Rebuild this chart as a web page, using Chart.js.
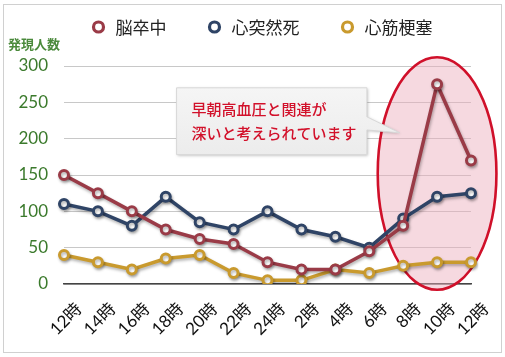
<!DOCTYPE html>
<html><head><meta charset="utf-8">
<script src="https://cdn.jsdelivr.net/npm/chart.js@4"></script>
<style>html,body{margin:0;padding:0;background:#fff}#wrap{position:relative;width:505px;height:357px}</style>
</head><body><div id="wrap"><canvas id="c" width="505" height="357"></canvas></div>
<script>
const categories = ['12時','14時','16時','18時','20時','22時','24時','2時','4時','6時','8時','10時','12時'];
const strokeValues = [150,125,100,75,62,55,30,20,20,45,80,275,170];      // 脳卒中
const suddenDeathValues = [110,100,80,120,85,75,100,75,65,50,90,120,125]; // 心突然死
const infarctionValues = [40,30,20,35,40,15,5,5,20,15,25,30,30];          // 心筋梗塞
const seriesLabels = ['脳卒中','心突然死','心筋梗塞'];
const seriesColors = ['#9a3b47','#2f4466','#c99a2e'];
const yTicks = [0,50,100,150,200,250,300];
const yTitle = '発現人数';
const noteLines = ['早朝高血圧と関連が','深いと考えられています'];

const GREEN = '#3b7a2c';
const NUM_FONT = "Lato, 'Noto Sans CJK JP', sans-serif";
const JP_FONT = "'Noto Sans CJK JP', sans-serif";

const decor = {
  id: 'decor',
  beforeDatasetsDraw(chart) {
    const ctx = chart.ctx, x = chart.scales.x, y = chart.scales.y;
    // ellipse highlight
    const cx = x.getPixelForValue(11), cy = y.getPixelForValue(152);
    const rx = x.getPixelForValue(1.75) - x.getPixelForValue(0);
    const ry = y.getPixelForValue(0) - y.getPixelForValue(160);
    ctx.save();
    ctx.beginPath();
    ctx.ellipse(cx, cy, rx, ry, 0, 0, Math.PI*2);
    ctx.fillStyle = 'rgba(236,170,186,0.45)';
    ctx.fill();
    ctx.lineWidth = 2.6;
    ctx.strokeStyle = '#d0102a';
    ctx.stroke();
    ctx.restore();
    // callout box
    const bl = x.getPixelForValue(3.32), br = x.getPixelForValue(8.93);
    const bt = y.getPixelForValue(270), bb = y.getPixelForValue(178);
    const tipX = x.getPixelForValue(9.9), tipY = y.getPixelForValue(208);
    const pTop = y.getPixelForValue(230), pBot = y.getPixelForValue(212);
    ctx.save();
    ctx.shadowColor = 'rgba(0,0,0,0.25)';
    ctx.shadowBlur = 3; ctx.shadowOffsetX = 1; ctx.shadowOffsetY = 1;
    ctx.beginPath();
    ctx.moveTo(bl, bt); ctx.lineTo(br, bt); ctx.lineTo(br, pTop);
    ctx.lineTo(tipX, tipY); ctx.lineTo(br, pBot); ctx.lineTo(br, bb);
    ctx.lineTo(bl, bb); ctx.closePath();
    const g = ctx.createLinearGradient(0, bt, 0, bb);
    g.addColorStop(0, '#f5f5f5'); g.addColorStop(1, '#ececec');
    ctx.fillStyle = g; ctx.fill();
    ctx.restore();
    ctx.save();
    ctx.strokeStyle = '#d8d8d8'; ctx.lineWidth = 1;
    ctx.beginPath();
    ctx.moveTo(bl, bt); ctx.lineTo(br, bt); ctx.lineTo(br, pTop);
    ctx.lineTo(tipX, tipY); ctx.lineTo(br, pBot); ctx.lineTo(br, bb);
    ctx.lineTo(bl, bb); ctx.closePath(); ctx.stroke();
    ctx.fillStyle = '#d2102a';
    ctx.font = "500 15px " + JP_FONT;
    ctx.textBaseline = 'middle'; ctx.textAlign = 'left';
    ctx.fillText(noteLines[0], bl + 15, bt + 21);
    ctx.fillText(noteLines[1], bl + 15, bt + 45);
    ctx.restore();
  },
  beforeDatasetDraw(chart) {
    const ctx = chart.ctx;
    ctx.save();
    ctx.shadowColor = 'rgba(0,0,0,0.3)';
    ctx.shadowBlur = 3; ctx.shadowOffsetX = 1; ctx.shadowOffsetY = 2;
  },
  afterDatasetDraw(chart) { chart.ctx.restore(); },
  afterDraw(chart) {
    const ctx = chart.ctx, area = chart.chartArea;
    ctx.save();
    // frame
    ctx.strokeStyle = '#d0d0d0'; ctx.lineWidth = 1;
    ctx.strokeRect(3.5, 4.5, 498, 348);
    // y title
    ctx.fillStyle = '#4b8a3c';
    ctx.font = "bold 13px " + JP_FONT;
    ctx.textBaseline = 'middle'; ctx.textAlign = 'left';
    ctx.fillText(yTitle, 8, 44);
    // legend
    ctx.font = "17px " + JP_FONT;
    const gapText = 17, gapItem = 42;
    const widths = seriesLabels.map(l => ctx.measureText(l).width);
    let total = 0;
    widths.forEach((w,i) => { total += 6 + gapText + w + (i < widths.length-1 ? gapItem : 0); });
    let xx = (area.left + area.right)/2 - 5 - total/2;
    const ly = 27;
    seriesLabels.forEach((l,i) => {
      const mx = xx + 6;
      ctx.beginPath(); ctx.arc(mx, ly, 5, 0, Math.PI*2);
      ctx.fillStyle = '#fff'; ctx.fill();
      ctx.lineWidth = 3.2; ctx.strokeStyle = seriesColors[i]; ctx.stroke();
      ctx.fillStyle = '#222';
      ctx.fillText(l, mx + gapText, ly + 1);
      xx = mx + gapText + widths[i] + gapItem;
    });
    ctx.restore();
  }
};

const seriesValues = [strokeValues, suddenDeathValues, infarctionValues];
new Chart(document.getElementById('c'), {
  type: 'line',
  data: {
    labels: categories,
    datasets: seriesValues.map((v,i) => ({
      label: seriesLabels[i], data: v,
      borderColor: seriesColors[i], backgroundColor: '#fff',
      pointBackgroundColor: '#fff', pointBorderColor: seriesColors[i],
      borderWidth: 3.5, pointRadius: 4.5, pointBorderWidth: 3,
      tension: 0, fill: false
    }))
  },
  options: {
    responsive: false, animation: false,
    layout: { padding: { top: 66, right: 34, left: 0, bottom: 0 } },
    plugins: { legend: { display: false }, tooltip: { enabled: false } },
    scales: {
      x: {
        offset: false,
        grid: { display: false },
        border: { display: true, color: '#444', width: 1.5 },
        ticks: {
          maxRotation: 45, minRotation: 45, autoSkip: false,
          labelOffset: 15, padding: 7,
          color: '#111', font: { size: 17, family: NUM_FONT }
        },
        afterFit(s) { s.height = 73; }
      },
      y: {
        min: 0, max: 300,
        afterBuildTicks(s) { s.ticks = yTicks.map(v => ({ value: v })); },
        grid: { color: '#c8c8c8', drawTicks: false, lineWidth: 1 },
        border: { display: false },
        ticks: { padding: 16, color: GREEN, font: { size: 17, family: NUM_FONT } },
        afterFit(s) { s.width = 64; }
      }
    }
  },
  plugins: [decor]
});
</script></body></html>
